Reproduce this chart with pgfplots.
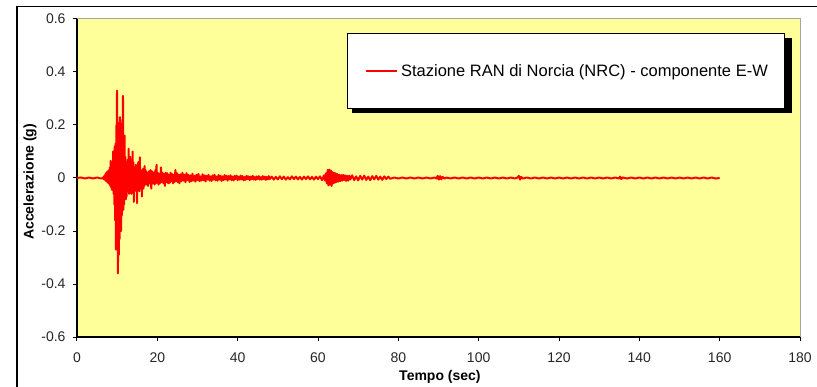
\documentclass[border=0pt]{standalone}
\usepackage{pgfplots}
\pgfplotsset{compat=1.18}
\usepackage{fontspec}
\setmainfont{Liberation Sans}
\definecolor{bgyellow}{RGB}{255,255,153}
\pgfplotstableread{
t a
0 0
1 0.002
2 -0.002
3 0.002
4 -0.002
5 0.002
6 -0.002
6.5 0
6.6 0.004
6.7 -0.005
6.8 0.008
6.9 -0.006
7.0 0.012
7.1 -0.010
7.2 0.018
7.3 -0.012
7.4 0.022
7.5 -0.015
7.6 0.020
7.7 -0.018
7.8 0.028
7.9 -0.020
8.0 0.030
8.1 -0.025
8.2 0.040
8.3 -0.030
8.4 0.065
8.5 -0.035
8.6 0.050
8.7 -0.045
8.8 0.060
8.9 -0.040
9.0 0.100
9.1 -0.060
9.2 0.090
9.3 -0.100
9.4 0.120
9.5 -0.160
9.6 0.130
9.7 -0.270
9.8 0.200
9.9 -0.200
9.96 0.330
10.05 -0.240
10.12 0.170
10.2 -0.360
10.3 0.160
10.4 -0.290
10.5 0.210
10.6 -0.230
10.7 0.230
10.8 -0.170
10.9 0.140
11.0 -0.200
11.1 0.120
11.2 -0.140
11.3 0.220
11.4 -0.100
11.45 0.310
11.55 -0.120
11.65 0.140
11.75 -0.100
11.85 0.160
11.95 -0.060
12.05 0.080
12.15 -0.080
12.25 0.050
12.35 -0.070
12.45 0.060
12.55 -0.040
12.65 0.070
12.75 -0.050
12.85 0.110
12.95 -0.060
13.05 0.040
13.15 -0.050
13.25 0.080
13.35 -0.030
13.45 0.050
13.55 -0.060
13.65 0.040
13.75 -0.050
13.85 0.100
13.95 -0.040
14.05 0.060
14.15 -0.090
14.25 0.040
14.35 -0.050
14.45 0.030
14.55 -0.040
14.65 0.050
14.75 -0.030
14.85 0.040
14.95 -0.095
15.05 0.030
15.15 -0.040
15.25 0.060
15.35 -0.030
15.45 0.040
15.55 -0.050
15.65 0.078
15.75 -0.030
15.85 0.030
15.95 -0.040
16.05 0.025
16.15 -0.070
16.25 0.030
16.35 -0.025
16.45 0.035
16.55 -0.040
16.65 0.025
16.75 -0.030
16.85 0.045
16.95 -0.020
17.1 0.030
17.3 -0.025
17.5 0.020
17.7 -0.030
17.9 0.025
18.1 -0.020
18.3 0.030
18.5 -0.040
18.7 0.025
18.9 -0.020
19.1 0.020
19.3 -0.025
19.5 0.030
19.7 -0.020
19.8 0.050
19.9 -0.015
20.1 0.020
20.3 -0.025
20.5 0.015
20.7 -0.020
20.9 0.040
21.1 -0.015
21.3 0.020
21.5 -0.020
21.7 0.015
21.9 -0.030
22.1 0.020
22.3 -0.015
22.5 0.018
22.7 -0.020
22.9 0.012
23.1 -0.018
23.3 0.020
23.5 -0.012
23.7 0.015
23.9 -0.020
24.1 0.012
24.3 -0.015
24.5 0.030
24.7 -0.012
24.9 0.018
25.1 -0.016
25.3 0.012
25.5 -0.020
25.75 0.014
26.0 -0.012
26.25 0.020
26.5 -0.010
26.75 0.012
27.0 -0.016
27.25 0.018
27.5 -0.008
27.75 0.012
28.0 -0.015
28.25 0.010
28.5 -0.012
28.75 0.016
29.0 -0.010
29.25 0.008
29.5 -0.014
29.75 0.012
30.0 -0.008
30.25 0.015
30.5 -0.012
30.75 0.006
31.0 -0.010
31.25 0.014
31.5 -0.008
31.75 0.010
32.0 -0.013
32.25 0.008
32.5 -0.006
32.75 0.012
33.0 -0.010
33.25 0.006
33.5 -0.011
33.75 0.010
34.0 -0.006
34.25 0.012
34.5 -0.009
34.75 0.005
35.0 -0.010
35.25 0.011
35.5 -0.006
35.75 0.008
36.0 -0.011
36.25 0.006
36.5 -0.008
36.75 0.011
37.0 -0.005
37.25 0.008
37.5 -0.010
37.75 0.007
38.0 -0.005
38.25 0.010
38.5 -0.008
38.75 0.005
39.0 -0.009
39.25 0.008
39.5 -0.004
39.75 0.009
40.0 -0.008
40.25 0.005
40.5 -0.006
40.75 0.009
41.0 -0.005
41.25 0.007
41.5 -0.009
41.75 0.004
42.0 -0.007
42.25 0.008
42.5 -0.004
42.75 0.006
43.0 -0.008
43.25 0.005
43.5 -0.004
43.75 0.008
44.0 -0.006
44.25 0.004
44.5 -0.007
44.75 0.006
45.0 -0.004
45.25 0.007
45.5 -0.006
45.75 0.003
46.0 -0.006
46.25 0.007
46.5 -0.004
46.75 0.005
47.0 -0.007
47.25 0.004
47.5 -0.005
47.75 0.007
48.0 -0.004
48.5 0.005
49.0 -0.006
49.5 0.004
50.0 -0.005
50.5 0.006
51.0 -0.004
51.5 0.005
52.0 -0.006
52.5 0.003
53.0 -0.005
53.5 0.006
54.0 -0.004
54.5 0.005
55.0 -0.005
55.5 0.004
56.0 -0.006
56.5 0.005
57.0 -0.004
57.5 0.006
58.0 -0.005
58.5 0.004
59.0 -0.006
59.5 0.005
60.0 -0.004
60.5 0.006
61.0 -0.008
61.5 0.010
61.75 -0.010
62.0 0.018
62.2 -0.020
62.4 0.030
62.6 -0.028
62.8 0.032
63.0 -0.025
63.2 0.028
63.4 -0.030
63.6 0.022
63.8 -0.020
64.0 0.020
64.2 -0.018
64.4 0.018
64.6 -0.015
64.8 0.015
65.0 -0.014
65.25 0.012
65.5 -0.012
65.75 0.011
66.0 -0.010
66.25 0.012
66.5 -0.008
66.75 0.010
67.0 -0.011
67.25 0.008
67.5 -0.010
67.75 0.009
68.0 -0.006
68.5 0.010
69.0 -0.008
69.5 0.006
70.0 -0.009
70.5 0.008
71.0 -0.006
71.5 0.009
72.0 -0.007
72.5 0.005
73.0 -0.008
73.5 0.007
74.0 -0.005
74.5 0.008
75.0 -0.006
75.5 0.005
76.0 -0.007
76.5 0.006
77.0 -0.004
77.5 0.005
78.0 -0.003
79 0.002
80 -0.002
81 0.002
82 -0.002
83 0.002
84 -0.002
85 0.002
86 -0.002
87 0.002
88 -0.002
89 0.002
89.5 -0.002
89.8 0.008
90.1 -0.006
90.4 0.007
90.7 -0.005
91.0 0.004
91.5 -0.002
92 0.002
93 -0.002
94 0.002
95 -0.002
96 0.002
97 -0.002
98 0.002
99 -0.002
100 0.002
101 -0.002
102 0.002
103 -0.002
104 0.002
105 -0.002
106 0.002
107 -0.002
108 0.002
109 -0.002
109.7 0.002
110.0 0.008
110.3 -0.006
110.6 0.004
111 -0.002
112 0.002
113 -0.002
114 0.002
115 -0.002
116 0.002
117 -0.002
118 0.002
119 -0.002
120 0.002
121 -0.002
122 0.002
123 -0.002
124 0.002
125 -0.002
126 0.002
127 -0.002
128 0.002
129 -0.002
130 0.002
131 -0.002
132 0.002
133 -0.002
134 0.002
134.9 -0.002
135.2 0.005
135.5 -0.004
135.8 0.002
137 -0.002
138 0.002
139 -0.002
140 0.002
141 -0.002
142 0.002
143 -0.002
144 0.002
145 -0.002
146 0.002
147 -0.002
148 0.002
149 -0.002
150 0.002
151 -0.002
152 0.002
153 -0.002
154 0.002
155 -0.002
156 0.002
157 -0.002
158 0.002
159 -0.002
160 0
}\accdata
\begin{document}
\begin{tikzpicture}[x=1pt,y=1pt]
\useasboundingbox (-77,-49) rectangle (740,337);
\draw[black,line width=1.4pt] (-60,-60) -- (-60,330.5) -- (760,330.5);
\begin{axis}[
  at={(0,0)}, anchor=south west,
  scale only axis, width=723pt, height=318pt,
  xmin=0, xmax=180, ymin=-0.6, ymax=0.6,
  axis lines=left, axis line style={-, black, line width=1.2pt},
  axis background/.style={fill=bgyellow},
  xtick={0,20,40,60,80,100,120,140,160,180},
  xticklabels={0,20,40,60,80,100,120,140,160,180},
  ytick={-0.6,-0.4,-0.2,0,0.2,0.4,0.6},
  yticklabels={-0.6,-0.4,-0.2,0,0.2,0.4,0.6},
  tick align=outside, major tick length=4pt,
  tick style={black, line width=1pt},
  tick label style={font=\fontsize{14}{16}\selectfont, color=black!85},
  xticklabel style={yshift=-8pt},
  yticklabel style={xshift=-4pt},
  xlabel={Tempo (sec)}, ylabel={Accelerazione (g)},
  label style={font=\bfseries\fontsize{14}{16}\selectfont},
  xlabel style={at={(axis description cs:0.502,-0.1258)}, anchor=center},
  ylabel style={at={(axis description cs:-0.065,0.488)}, anchor=center},
  legend style={at={(rel axis cs:0.3734,0.956)}, anchor=north west,
    draw=black, line width=0.8pt, fill=white,
    inner xsep=17.5pt, inner ysep=29pt,
    font=\fontsize{16.5}{18}\selectfont},
  legend image code/.code={\draw[color=red, draw=red, line width=1.5pt] (0pt,0pt) -- (31pt,0pt); \path (32.5pt,0pt);},
  after end axis/.code={\draw[gray!70,line width=1pt] (rel axis cs:0,1) -- (rel axis cs:1,1) -- (rel axis cs:1,0);},
  clip=true,
]
\fill[black] (rel axis cs:0.38036,0.70440) rectangle (rel axis cs:0.98894,0.94025);
\addplot[red, line width=2pt, line join=round] table[x=t,y=a] {\accdata};
\addlegendentry{\makebox[364pt][l]{Stazione RAN di Norcia (NRC) - componente E-W}}
\end{axis}
\end{tikzpicture}
\end{document}
